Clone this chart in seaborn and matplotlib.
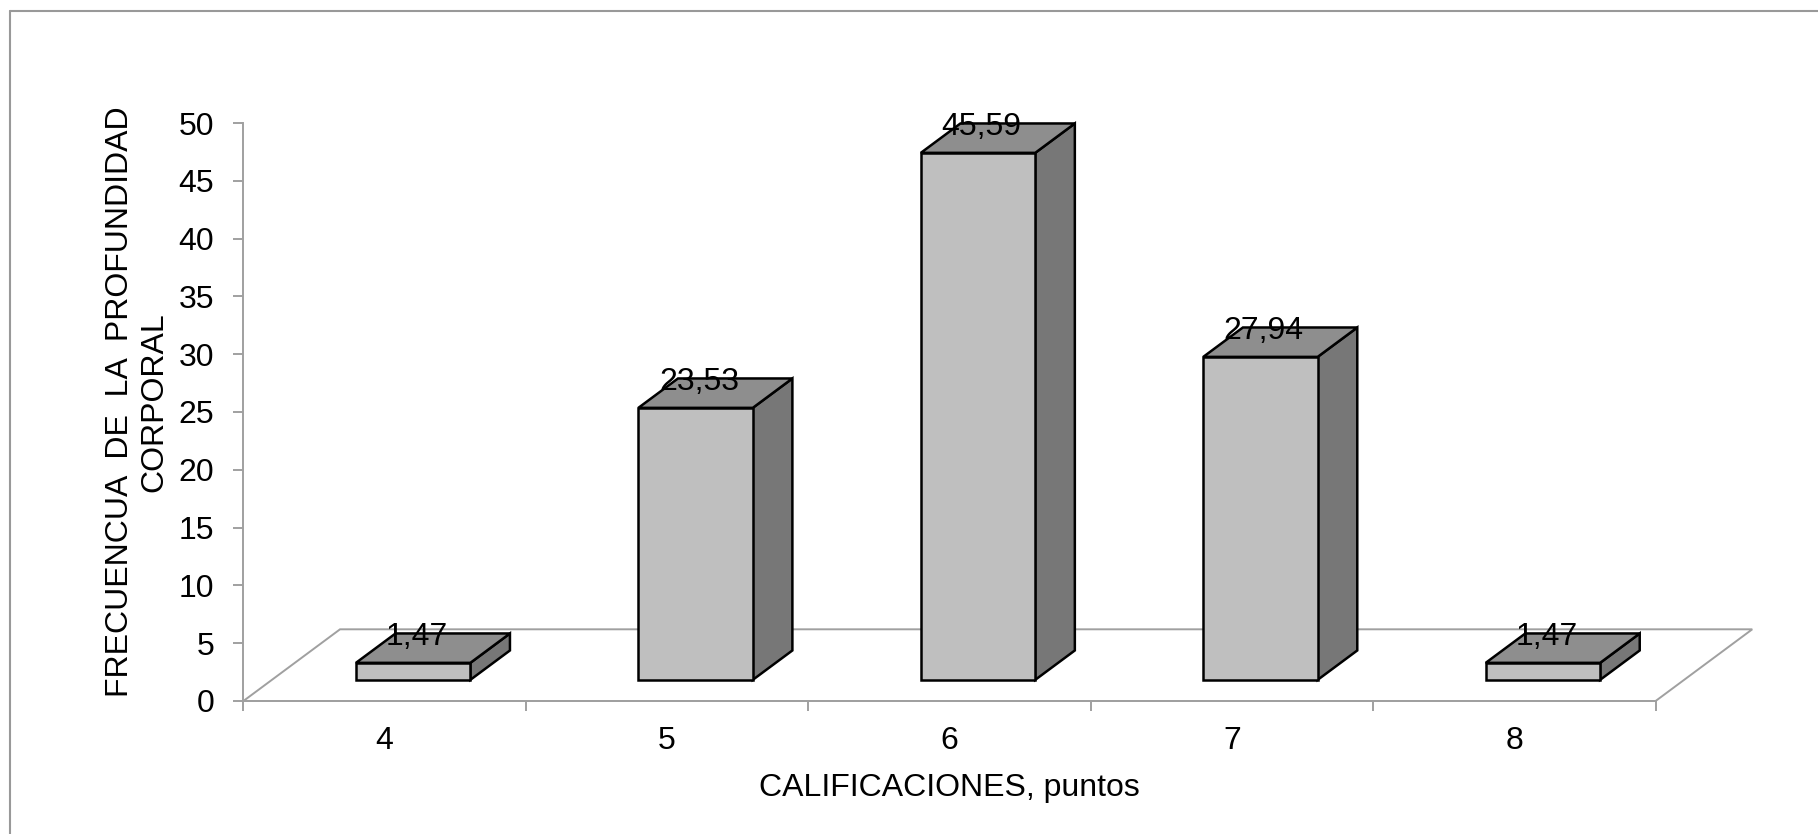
import numpy as np
import pandas as pd
import matplotlib
matplotlib.use("Agg")
import matplotlib.pyplot as plt
from matplotlib.patches import Polygon
from matplotlib.lines import Line2D
import seaborn as sns

# ---- data -------------------------------------------------------------
calificaciones = ["4", "5", "6", "7", "8"]
frecuencias = [1.47, 23.53, 45.59, 27.94, 1.47]
y_ticks = [0, 5, 10, 15, 20, 25, 30, 35, 40, 45, 50]

titulo_y = "FRECUENCUA  DE  LA  PROFUNDIDAD\nCORPORAL"
titulo_x = "CALIFICACIONES, puntos"

# ---- style ------------------------------------------------------------
sns.set_theme(style="white")
plt.rcParams["font.family"] = ["Liberation Sans", "DejaVu Sans"]

FRONT = "#BFBFBF"
TOP = "#8E8E8E"
SIDE = "#777777"
LINE = "#A0A0A0"
FS = 23

# oblique "3D" projection: floor depth and where the bars sit on it
FLOOR_DX, FLOOR_DY = 0.342, 6.2
BAR_FRONT, BAR_DEPTH = 0.295, 0.41
off_x, off_y = BAR_FRONT * FLOOR_DX, BAR_FRONT * FLOOR_DY
d_x, d_y = BAR_DEPTH * FLOOR_DX, BAR_DEPTH * FLOOR_DY

fig = plt.figure(figsize=(18.18, 8.34), dpi=100)
fig.patch.set_facecolor("white")
ax = fig.add_axes([0.1339, 0.1595, 0.7768, 0.6930])

df = pd.DataFrame({"calificacion": calificaciones, "frecuencia": frecuencias})
sns.barplot(data=df, x="calificacion", y="frecuencia", order=calificaciones,
            color=FRONT, saturation=1, width=0.405, edgecolor="black",
            linewidth=1.8, errorbar=None, ax=ax, zorder=4)

n = len(calificaciones)
x_lo, x_hi = -0.5, n - 0.5

# floor parallelogram
floor = Polygon([(x_lo, 0), (x_hi, 0), (x_hi + FLOOR_DX, FLOOR_DY),
                 (x_lo + FLOOR_DX, FLOOR_DY)], closed=True, fill=False,
                ec=LINE, lw=1.4, zorder=1, clip_on=False)
ax.add_patch(floor)

# extrude each bar: shift front face onto the floor, add side and top faces
bars = [p for p in ax.patches if p is not floor]
for bar, v in zip(bars, frecuencias):
    bar.set_x(bar.get_x() + off_x)
    bar.set_y(off_y)
    bar.set_clip_on(False)
    bar.set_joinstyle("miter")
    x0 = bar.get_x()
    x1 = x0 + bar.get_width()
    y0 = off_y
    y1 = off_y + bar.get_height()
    side = Polygon([(x1, y0), (x1 + d_x, y0 + d_y), (x1 + d_x, y1 + d_y), (x1, y1)],
                   closed=True, fc=SIDE, ec="black", lw=1.8, zorder=3, clip_on=False)
    top = Polygon([(x0, y1), (x0 + d_x, y1 + d_y), (x1 + d_x, y1 + d_y), (x1, y1)],
                  closed=True, fc=TOP, ec="black", lw=1.8, zorder=3, clip_on=False)
    ax.add_patch(side)
    ax.add_patch(top)
    ax.text((x0 + x1) / 2 + 0.012, y1 + d_y - 1.0, f"{v:.2f}".replace(".", ","),
            ha="center", va="baseline", fontsize=FS, color="black", zorder=6)

# ---- axes -------------------------------------------------------------
ax.set_xlim(x_lo, x_hi)
ax.set_ylim(0, 50)
ax.set_yticks(y_ticks)
ax.set_xticks(range(n))
ax.set_xticklabels(calificaciones)
ax.set_xticks(np.arange(x_lo, n, 1.0), minor=True)

for side_name in ["top", "right"]:
    ax.spines[side_name].set_visible(False)
for side_name in ["left", "bottom"]:
    ax.spines[side_name].set_color(LINE)
    ax.spines[side_name].set_linewidth(1.4)

ax.tick_params(axis="x", which="major", bottom=True, length=0, pad=18,
               labelsize=FS, labelcolor="black")
ax.tick_params(axis="x", which="minor", bottom=True, length=7, width=1.4,
               color=LINE, direction="out")
ax.tick_params(axis="y", which="major", left=True, length=7, width=1.4,
               color=LINE, direction="out", pad=14, labelsize=FS,
               labelcolor="black")

ax.set_xlabel(titulo_x, fontsize=FS, color="black")
ax.xaxis.set_label_coords(0.5, -0.125)
ax.set_ylabel(titulo_y, fontsize=FS, color="black", linespacing=1.2)
ax.yaxis.set_label_coords(-0.0524, 0.517)

# chart-area frame
bx, by = 10 / 1818, 1 - 11 / 834
fig.add_artist(Line2D([bx, bx], [0, by], transform=fig.transFigure,
                      color="#999999", lw=1.5))
fig.add_artist(Line2D([bx, 1], [by, by], transform=fig.transFigure,
                      color="#999999", lw=1.5))

fig.savefig("out.png", dpi=100, facecolor="white")
